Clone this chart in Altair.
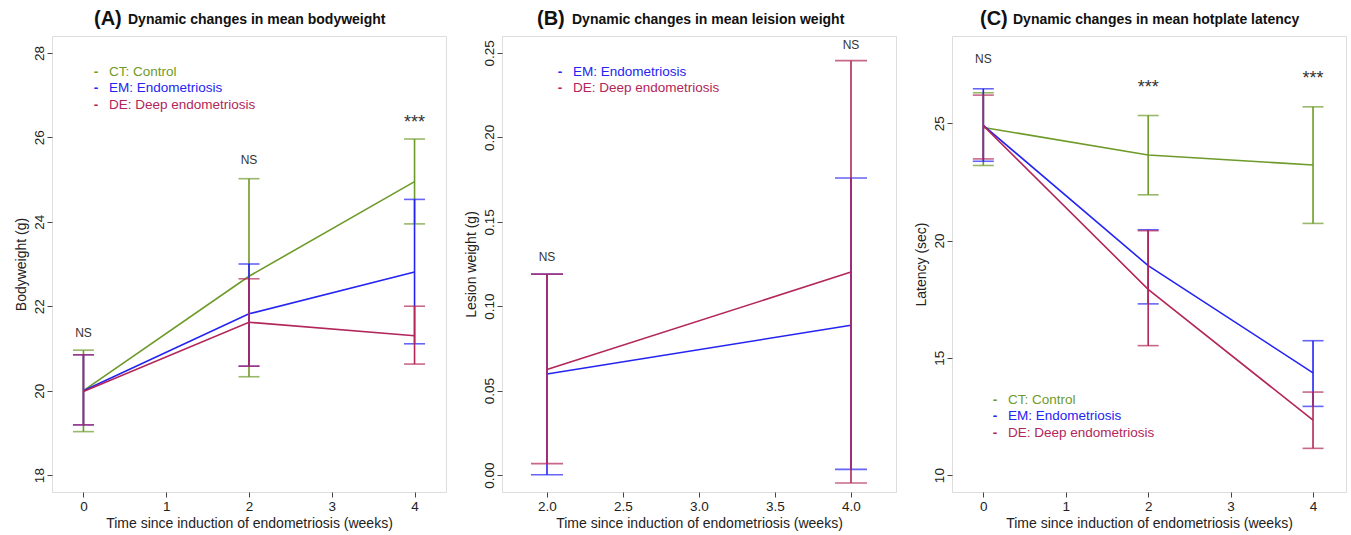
import altair as alt
import pandas as pd

groups = ["CT: Control", "EM: Endometriosis", "DE: Deep endometriosis"]
colors = ["#6E9A2A", "#2424F2", "#B2265A"]

# Panel A: bodyweight (g)
weeks_A = [0, 2, 4]
ct_bw_mean = [20.00, 22.71, 24.95]
ct_bw_lo = [19.03, 20.33, 23.95]
ct_bw_hi = [20.96, 25.02, 25.96]
em_bw_mean = [20.00, 21.82, 22.81]
em_bw_lo = [19.19, 20.58, 21.11]
em_bw_hi = [20.85, 23.00, 24.53]
de_bw_mean = [19.98, 21.62, 21.30]
de_bw_lo = [19.19, 20.58, 20.63]
de_bw_hi = [20.85, 22.65, 22.00]
ann_A_x = [0, 2, 4]
ann_A_y = [21.27, 25.38, 26.23]
ann_A_text = ["NS", "NS", "***"]

# Panel B: lesion weight (g)
weeks_B = [2, 4]
em_lw_mean = [0.0599, 0.0887]
em_lw_lo = [0.0002, 0.0034]
em_lw_hi = [0.1190, 0.1759]
de_lw_mean = [0.0625, 0.1202]
de_lw_lo = [0.0068, -0.0047]
de_lw_hi = [0.1190, 0.2454]
ann_B_x = [2, 4]
ann_B_y = [0.1269, 0.2524]
ann_B_text = ["NS", "NS"]

# Panel C: hotplate latency (sec)
weeks_C = [0, 2, 4]
ct_lat_mean = [24.82, 23.65, 23.22]
ct_lat_lo = [23.20, 21.95, 20.73]
ct_lat_hi = [26.30, 25.33, 25.70]
em_lat_mean = [24.91, 18.93, 14.36]
em_lat_lo = [23.38, 17.30, 12.93]
em_lat_hi = [26.47, 20.46, 15.73]
de_lat_mean = [24.90, 17.92, 12.34]
de_lat_lo = [23.48, 15.52, 11.14]
de_lat_hi = [26.20, 20.42, 13.54]
ann_C_x = [0, 2, 4]
ann_C_y = [27.58, 26.29, 26.69]
ann_C_text = ["NS", "***", "***"]

FONT = "Liberation Sans"
TXT = "#222222"
W, H = 394, 456


def series_df(weeks, mean, lo, hi, group):
    return pd.DataFrame({"week": weeks, "mean": mean, "lo": lo, "hi": hi, "group": group})


def panel(series, xdom, xticks, xfmt, ydom, yticks, yfmt, ytitle, letter, ttext,
          letter_x, text_x, legend_items, legend_x, legend_y, cap, ann):
    xs = alt.Scale(domain=xdom, nice=False, zero=False)
    ys = alt.Scale(domain=ydom, nice=False, zero=False)
    xaxis = alt.Axis(values=xticks, format=xfmt,
                     title="Time since induction of endometriosis (weeks)",
                     grid=False, domain=False, tickSize=5, tickColor="#444444",
                     labelFontSize=13.5, labelColor=TXT, labelPadding=2,
                     labelFlush=False, labelOverlap=False,
                     titleFontSize=14, titleFontWeight="normal", titleColor=TXT,
                     titlePadding=4, labelFont=FONT, titleFont=FONT)
    yaxis = alt.Axis(values=yticks, format=yfmt, title=ytitle,
                     grid=False, domain=False, tickSize=5, tickColor="#444444",
                     labelFontSize=13.5, labelColor=TXT, labelAngle=270,
                     labelAlign="center", labelBaseline="alphabetic", labelPadding=4,
                     labelFlush=False, labelOverlap=False,
                     titleFontSize=14, titleFontWeight="normal", titleColor=TXT,
                     titlePadding=4, labelFont=FONT, titleFont=FONT)
    layers = []
    for df, col in series:
        base = alt.Chart(df)
        X = alt.X("week:Q", scale=xs, axis=xaxis)
        layers.append(base.mark_rule(strokeWidth=1.6, color=col).encode(
            x=X, y=alt.Y("lo:Q", scale=ys, axis=yaxis), y2="hi:Q"))
        layers.append(base.mark_tick(orient="horizontal", size=cap, thickness=1.6, color=col).encode(
            x=X, y=alt.Y("lo:Q", scale=ys, axis=yaxis)))
        layers.append(base.mark_tick(orient="horizontal", size=cap, thickness=1.6, color=col).encode(
            x=X, y=alt.Y("hi:Q", scale=ys, axis=yaxis)))
        layers.append(base.mark_line(strokeWidth=1.6, color=col).encode(
            x=X, y=alt.Y("mean:Q", scale=ys, axis=yaxis)))
    ax, ay, at = ann
    adf = pd.DataFrame({"x": ax, "y": ay, "t": at})
    adf["big"] = adf["t"] == "***"
    for big, size in [(False, 12), (True, 18)]:
        sub = adf[adf["big"] == big][["x", "y", "t"]]
        if len(sub) == 0:
            continue
        layers.append(alt.Chart(sub).mark_text(font=FONT, fontSize=size, color="#333333",
                                               baseline="alphabetic", align="center").encode(
            x=alt.X("x:Q", scale=xs, axis=xaxis), y=alt.Y("y:Q", scale=ys, axis=yaxis), text="t:N"))
    # title
    layers.append(alt.Chart(pd.DataFrame({"t": [letter]})).mark_text(
        font=FONT, fontSize=20, fontWeight="bold", color="#111111", align="left",
        baseline="alphabetic").encode(x=alt.value(letter_x), y=alt.value(-11), text="t:N"))
    layers.append(alt.Chart(pd.DataFrame({"t": [ttext]})).mark_text(
        font=FONT, fontSize=14, fontWeight="bold", color="#111111", align="left",
        baseline="alphabetic").encode(x=alt.value(text_x), y=alt.value(-12), text="t:N"))
    # legend
    for i, (lab, col) in enumerate(legend_items):
        ldf = pd.DataFrame({"t": [lab], "d": ["-"]})
        yy = legend_y + 16.3 * i
        layers.append(alt.Chart(ldf).mark_text(font=FONT, fontSize=13.5, color=col,
                                               fontWeight="bold", align="center",
                                               baseline="middle").encode(
            x=alt.value(legend_x - 13), y=alt.value(yy), text="d:N"))
        layers.append(alt.Chart(ldf).mark_text(font=FONT, fontSize=13.5, color=col,
                                               align="left", baseline="middle").encode(
            x=alt.value(legend_x), y=alt.value(yy), text="t:N"))
    return alt.layer(*layers).properties(width=W, height=H)


pA = panel(
    [(series_df(weeks_A, ct_bw_mean, ct_bw_lo, ct_bw_hi, groups[0]), colors[0]),
     (series_df(weeks_A, em_bw_mean, em_bw_lo, em_bw_hi, groups[1]), colors[1]),
     (series_df(weeks_A, de_bw_mean, de_bw_lo, de_bw_hi, groups[2]), colors[2])],
    [-0.38, 4.38], [0, 1, 2, 3, 4], "d", [17.6, 28.4], [18, 20, 22, 24, 26, 28], "d",
    "Bodyweight (g)", "(A)", "Dynamic changes in mean bodyweight", 42, 76,
    list(zip(groups, colors)), 57, 36, 21, (ann_A_x, ann_A_y, ann_A_text))

pB = panel(
    [(series_df(weeks_B, em_lw_mean, em_lw_lo, em_lw_hi, groups[1]), colors[1]),
     (series_df(weeks_B, de_lw_mean, de_lw_lo, de_lw_hi, groups[2]), colors[2])],
    [1.704, 4.296], [2.0, 2.5, 3.0, 3.5, 4.0], ".1f", [-0.01, 0.26],
    [0.0, 0.05, 0.10, 0.15, 0.20, 0.25], ".2f",
    "Lesion weight (g)", "(B)", "Dynamic changes in mean leision weight", 35, 70,
    list(zip(groups[1:], colors[1:])), 71, 36, 32, (ann_B_x, ann_B_y, ann_B_text))

pC = panel(
    [(series_df(weeks_C, ct_lat_mean, ct_lat_lo, ct_lat_hi, groups[0]), colors[0]),
     (series_df(weeks_C, em_lat_mean, em_lat_lo, em_lat_hi, groups[1]), colors[1]),
     (series_df(weeks_C, de_lat_mean, de_lat_lo, de_lat_hi, groups[2]), colors[2])],
    [-0.38, 4.40], [0, 1, 2, 3, 4], "d", [9.28, 28.72], [10, 15, 20, 25], "d",
    "Latency (sec)", "(C)", "Dynamic changes in mean hotplate latency", 28, 61,
    list(zip(groups, colors)), 56, 364, 21, (ann_C_x, ann_C_y, ann_C_text))

chart = alt.hconcat(pA, pB, pC, spacing=56, bounds="flush").properties(
    padding={"left": 13, "top": 8, "right": 0, "bottom": 0}
).configure_view(stroke="#555555", strokeWidth=1.6).configure(font=FONT, background="white")

chart.save("out.html", embed_options={"renderer": "svg", "actions": False})
